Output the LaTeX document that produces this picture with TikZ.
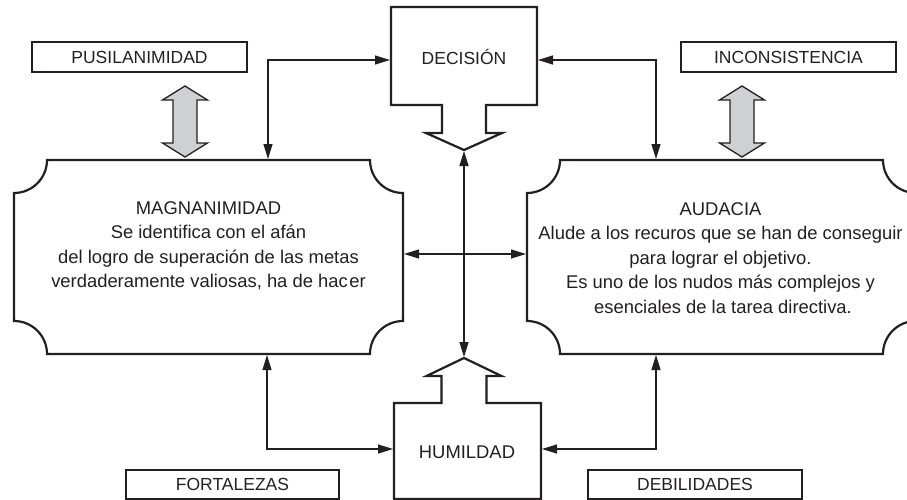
\documentclass[tikz,border=0pt]{standalone}
\usepackage{fontspec}
\setmainfont{Liberation Sans}
\usetikzlibrary{arrows.meta}
\definecolor{ink}{RGB}{35,31,32}
\definecolor{arrgray}{RGB}{207,208,210}
\begin{document}
\begin{tikzpicture}[x=1pt,y=-1pt,
  bigshape/.style={draw=ink, line width=2.2pt, line join=miter, fill=white},
  lblbox/.style={draw=ink, line width=1.5pt, inner sep=0pt, minimum height=30pt, font=\fontsize{17.5}{22}\selectfont, text=ink},
  txt/.style={align=center, font=\fontsize{18.4}{24.5}\selectfont, text=ink, inner sep=0pt},
  conn/.style={draw=ink, line width=1.2pt, {Triangle[length=15pt,width=9pt]}-{Triangle[length=15pt,width=9pt]}},
  grayarr/.style={draw=ink, line width=1.3pt, fill=arrgray, line join=miter}
]
\useasboundingbox (0,0) rectangle (907,500);

% label boxes
\node[lblbox, minimum width=215pt] (pus) at (139.5,57) {PUSILANIMIDAD};
\node[lblbox, minimum width=215pt] (inc) at (788.5,57) {INCONSISTENCIA};
\node[lblbox, minimum width=213pt, minimum height=29pt] (fort) at (232.5,484.5) {FORTALEZAS};
\node[lblbox, minimum width=214pt, minimum height=29pt] (deb) at (695,484.5) {DEBILIDADES};

% gray double arrows
\foreach \cx/\nm in {185/gL, 742/gR}{
  \draw[grayarr] (\cx,86) -- (\cx+22.5,100) -- (\cx+12,100) -- (\cx+12,143) -- (\cx+22.5,143)
    -- (\cx,157) -- (\cx-22.5,143) -- (\cx-12,143) -- (\cx-12,100) -- (\cx-22.5,100) -- cycle;
}

% left big box
\draw[bigshape] (47,160) -- (370,160) arc[start angle=180,end angle=90,radius=33]
  -- (403,321) arc[start angle=270,end angle=180,radius=33]
  -- (47,354) arc[start angle=0,end angle=-90,radius=33]
  -- (14,193) arc[start angle=90,end angle=0,radius=33] -- cycle;
% right big box
\draw[bigshape] (560,160) -- (883,160) arc[start angle=180,end angle=90,radius=33]
  -- (916,321) arc[start angle=270,end angle=180,radius=33]
  -- (560,354) arc[start angle=0,end angle=-90,radius=33]
  -- (527,193) arc[start angle=90,end angle=0,radius=33] -- cycle;

% DECISION shape
\draw[bigshape] (391,7) -- (537,7) -- (537,105) -- (486,105) -- (486,133) -- (502,133)
  -- (464,150) -- (426,133) -- (442,133) -- (442,105) -- (391,105) -- cycle;
% HUMILDAD shape
\draw[bigshape] (394,499) -- (394,403) -- (441.5,403) -- (441.5,376) -- (426.5,376) -- (464,358)
  -- (501.5,376) -- (486.5,376) -- (486.5,403) -- (541,403) -- (541,499) -- cycle;

% texts
\node[txt, font=\fontsize{17.5}{22}\selectfont] (dec) at (464,57) {DECISIÓN};
\node[txt] (hum) at (467,452) {HUMILDAD};
\node[txt] (mag) at (208.5,246) {MAGNANIMIDAD\\Se identifica con el afán\\del logro de superación de las metas\\verdaderamente valiosas, ha de hac\hspace{1.5pt}er};
\node[txt] (aud) at (720.5,258) {AUDACIA\\Alude a los recuros que se han de conseguir\\para lograr el objetivo.\\Es uno de los nudos más complejos y\\\hspace{5pt}esenciales de la tarea directiva.};

% connector end points
\coordinate (dL) at (390,60);
\coordinate (dR) at (538,60);
\coordinate (kL) at (268,159);
\coordinate (kR) at (656,159);
\coordinate (bL) at (267,355);
\coordinate (bR) at (656,355);
\coordinate (hL) at (393,449);
\coordinate (hR) at (542,449);
\coordinate (dP) at (464,151);
\coordinate (hP) at (464,357);
\coordinate (mR) at (404,254);
\coordinate (aL) at (526,254);

\draw[conn] (kL) |- (dL);
\draw[conn] (dR) -| (kR);
\draw[conn] (bL) |- (hL);
\draw[conn] (bR) |- (hR);
\draw[conn] (dP) -- (hP);
\draw[conn] (mR) -- (aL);
\end{tikzpicture}
\end{document}
